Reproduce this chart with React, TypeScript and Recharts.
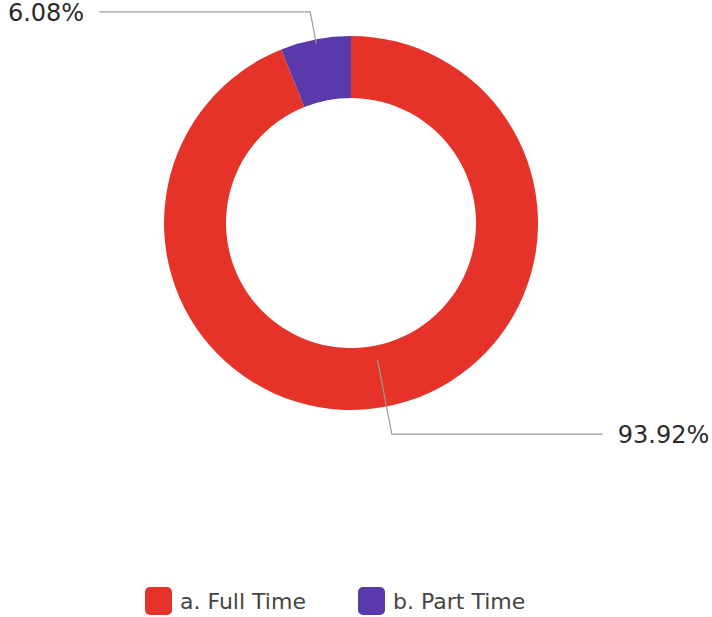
import React from "react";
import { PieChart, Pie, Cell, Legend } from "recharts";

const categories = ["a. Full Time", "b. Part Time"];
const values = [93.92, 6.08];
const colors = ["#E6332A", "#5A3AAA"];

const data = categories.map((name, i) => ({ name, value: values[i] }));
const total = values.reduce((a, b) => a + b, 0);

const RAD = Math.PI / 180;

const renderLabel = (props: any) => {
  const { cx, cy, midAngle, innerRadius, outerRadius, value, index } = props;
  const cos = Math.cos(-midAngle * RAD);
  const sin = Math.sin(-midAngle * RAD);
  const startR = index === 0 ? innerRadius + 15 : outerRadius - 4;
  const elbowR = outerRadius + 28;
  const sx = cx + startR * cos;
  const sy = cy + startR * sin;
  const mx = cx + elbowR * cos;
  const my = cy + elbowR * sin;
  const dir = cos >= 0 ? 1 : -1;
  const ex = mx + dir * 211;
  const tx = ex + dir * 15;
  const pct = ((value / total) * 100).toFixed(2) + "%";
  return (
    <g>
      <polyline
        points={`${sx},${sy} ${mx},${my} ${ex},${my}`}
        fill="none"
        stroke="#9a9a9a"
        strokeWidth={1.2}
      />
      <text
        x={tx}
        y={my + 1}
        textAnchor={dir > 0 ? "start" : "end"}
        dominantBaseline="central"
        fontFamily="DejaVu Sans"
        fontSize={24}
        fill="#2a2a2a"
      >
        {pct}
      </text>
    </g>
  );
};

const renderLegend = () => (
  <div style={{ display: "flex", alignItems: "center", fontFamily: "DejaVu Sans", fontSize: 22, color: "#444" }}>
    {categories.map((c, i) => (
      <div key={c} style={{ display: "flex", alignItems: "center", width: i === 0 ? 213 : "auto" }}>
        <div style={{ width: 27, height: 28, borderRadius: 5, background: colors[i], marginRight: 8 }} />
        <span>{c}</span>
      </div>
    ))}
  </div>
);

export default function App() {
  return (
    <div style={{ position: "absolute", left: 0, top: 0, background: "#fff" }}>
      <PieChart width={712} height={617} margin={{ top: 0, right: 0, bottom: 0, left: 0 }}>
        <Pie
          data={data}
          dataKey="value"
          nameKey="name"
          cx={351}
          cy={223}
          innerRadius={125}
          outerRadius={187}
          startAngle={90}
          endAngle={-270}
          stroke="none"
          label={renderLabel}
          labelLine={false}
          isAnimationActive={false}
        >
          {data.map((d, i) => (
            <Cell key={d.name} fill={colors[i]} />
          ))}
        </Pie>
        <Legend
          content={renderLegend}
          wrapperStyle={{ position: "absolute", top: 587, left: 145, width: 500 }}
        />
      </PieChart>
    </div>
  );
}
